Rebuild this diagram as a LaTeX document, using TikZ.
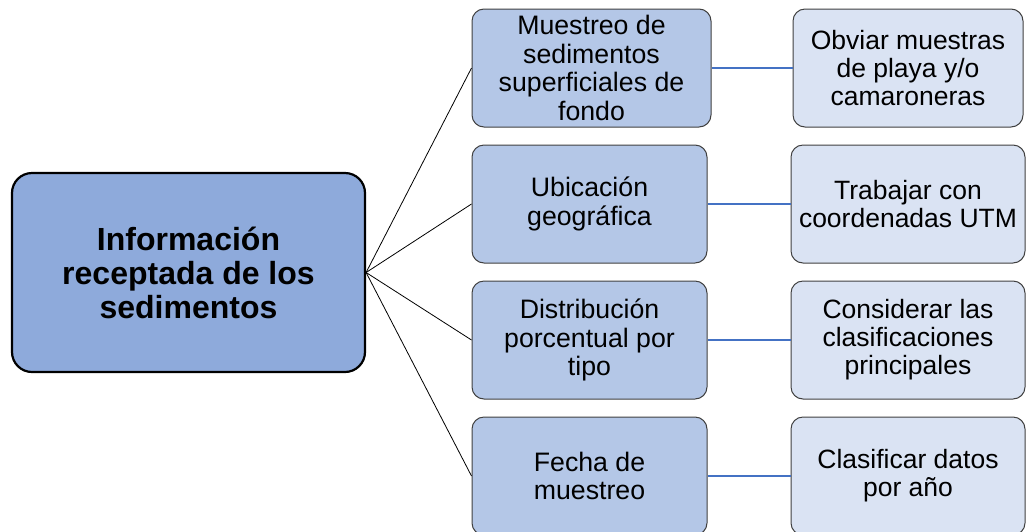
\documentclass[tikz,border=0pt]{standalone}
\usepackage{fontspec}
\setmainfont{Liberation Sans}
\begin{document}
\begin{tikzpicture}[x=1pt,y=-1pt,
  mainbox/.style={draw=black,line width=2.2pt,fill=mainblue,rounded corners=20pt,
    minimum width=353pt,minimum height=199pt,inner sep=0pt,align=center,
    font=\fontsize{32}{34}\selectfont\bfseries},
  midbox/.style={draw=black!75,line width=1pt,fill=midblue,rounded corners=12pt,
    minimum height=118pt,inner sep=0pt,align=center,
    font=\fontsize{26.7}{28.5}\selectfont},
  rightbox/.style={draw=black!75,line width=1pt,fill=lightblue,rounded corners=12pt,
    minimum height=118pt,inner sep=0pt,align=center,
    font=\fontsize{26.5}{28}\selectfont},
  link/.style={draw=black,line width=0.8pt},
  bluelink/.style={draw=lineblue,line width=2pt}]
\definecolor{mainblue}{HTML}{8EAADB}
\definecolor{midblue}{HTML}{B4C7E7}
\definecolor{lightblue}{HTML}{DAE3F3}
\definecolor{lineblue}{HTML}{4472C4}
\useasboundingbox (0,0) rectangle (1028,531);
\node[mainbox] (main) at (188.5,272.5) {Información\\receptada de los\\sedimentos};
\node[midbox,minimum width=239pt] (m1) at (591.5,68) {Muestreo de\\sedimentos\\superficiales de\\fondo};
\node[midbox,minimum width=235pt] (m2) at (589.5,204) {Ubicación\\geográfica};
\node[midbox,minimum width=235pt] (m3) at (589.5,340) {Distribución\\porcentual por\\tipo};
\node[midbox,minimum width=235pt] (m4) at (589.5,476) {Fecha de\\muestreo};
\node[rightbox,minimum width=230pt] (r1) at (908,68) {Obviar muestras\\de playa y/o\\camaroneras};
\node[rightbox,minimum width=234pt] (r2) at (908,204) {Trabajar con\\coordenadas UTM};
\node[rightbox,minimum width=234pt] (r3) at (908,340) {Considerar las\\clasificaciones\\principales};
\node[rightbox,minimum width=234pt] (r4) at (908,476) {Clasificar datos\\por año};
\foreach \i in {1,2,3,4}{
  \draw[link] (main.east) -- (m\i.west);
  \draw[bluelink] (m\i.east) -- (r\i.west);
}
\end{tikzpicture}
\end{document}
